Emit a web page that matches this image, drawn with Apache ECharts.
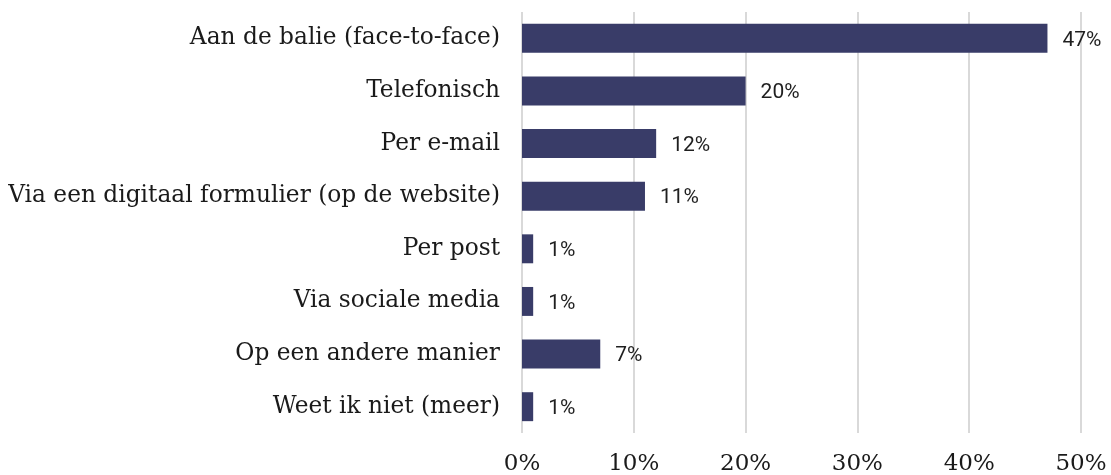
<!DOCTYPE html>
<html>
<head>
<meta charset="utf-8">
<script src="https://cdn.jsdelivr.net/npm/echarts@6/dist/echarts.min.js"></script>
<style>
  html, body { margin: 0; padding: 0; background: #ffffff; }
  #chart { width: 1111px; height: 475px; }
</style>
</head>
<body>
<div id="chart"></div>
<script>
// Contact channels (top to bottom) and share of respondents, in percent
const categories = [
  'Aan de balie (face-to-face)',
  'Telefonisch',
  'Per e-mail',
  'Via een digitaal formulier (op de website)',
  'Per post',
  'Via sociale media',
  'Op een andere manier',
  'Weet ik niet (meer)'
];
const shares = [47, 20, 12, 11, 1, 1, 7, 1];
const xTicks = [0, 10, 20, 30, 40, 50];

const serif = '"DejaVu Serif", serif';

const chart = echarts.init(document.getElementById('chart'), null, { renderer: 'canvas' });

chart.setOption({
  animation: false,
  grid: {
    left: 522, right: 30, top: 12, bottom: 42,
    containLabel: false,
    outerBoundsMode: 'none'
  },
  xAxis: {
    type: 'value',
    min: xTicks[0],
    max: xTicks[xTicks.length - 1],
    interval: 10,
    axisLine: { show: false },
    axisTick: { show: false },
    splitLine: { show: true, lineStyle: { color: '#d9d9d9', width: 2 } },
    axisLabel: {
      margin: 20,
      formatter: v => v + '%',
      fontFamily: serif,
      fontSize: 23,
      color: '#1a1a1a'
    }
  },
  yAxis: {
    type: 'category',
    data: categories,
    inverse: true,
    axisLine: { show: false },
    axisTick: { show: false },
    splitLine: { show: false },
    axisLabel: {
      margin: 22,
      fontFamily: serif,
      fontSize: 23.3,
      color: '#1a1a1a'
    }
  },
  series: [{
    type: 'bar',
    data: shares,
    barCategoryGap: '45%',
    itemStyle: { color: '#393c68' },
    label: {
      show: true,
      position: 'right',
      distance: 15,
      offset: [0, 2],
      formatter: p => p.value + '%',
      fontFamily: 'Roboto, sans-serif',
      fontSize: 21,
      color: '#1f1f1f'
    }
  }]
});
</script>
</body>
</html>
